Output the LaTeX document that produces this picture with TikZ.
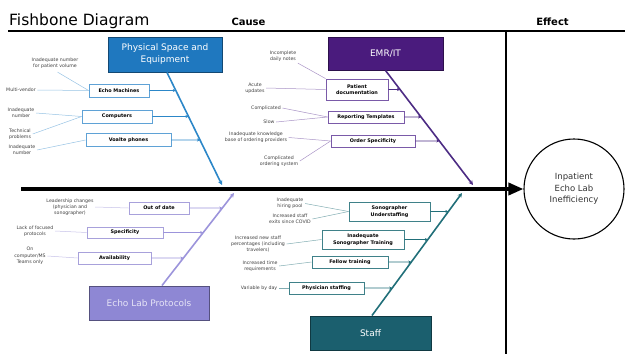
\documentclass[tikz,border=0pt]{standalone}
\usepackage{fontspec}
\setmainfont{DejaVu Sans}
\usetikzlibrary{arrows.meta,calc,positioning}

\definecolor{fillpse}{HTML}{1F78BF}
\definecolor{bonepse}{HTML}{2C87C8}
\definecolor{edgepse}{HTML}{5FA2D6}
\definecolor{fillemr}{HTML}{4A1B7D}
\definecolor{boneemr}{HTML}{4D2C84}
\definecolor{edgeemr}{HTML}{7A5AA8}
\definecolor{fillelp}{HTML}{8E87D4}
\definecolor{boneelp}{HTML}{9C94DB}
\definecolor{edgeelp}{HTML}{A8A1DB}
\definecolor{textelp}{HTML}{E6E4F6}
\definecolor{fillstaff}{HTML}{1B5F6E}
\definecolor{bonestaff}{HTML}{216F79}
\definecolor{edgestaff}{HTML}{3F8189}

\begin{document}
\begin{tikzpicture}[x=1pt, y=-1pt,
    every node/.style={align=center, inner sep=1.5pt},
    header/.style={draw=#1!60!black, fill=#1, text=white, line width=1pt,
        inner sep=0pt, font=\fontsize{9}{12}\selectfont},
    causebox/.style={draw=#1, fill=white, line width=0.8pt, inner sep=0pt,
        minimum height=12pt, font=\bfseries\fontsize{4.9}{6.5}\selectfont},
    reason/.style={text=black!75, font=\fontsize{4.7}{6.3}\selectfont},
    bone/.style={draw=#1, line width=1.6pt, -{Stealth[length=4.5pt,width=4.5pt]}},
    twig/.style={draw=#1, line width=0.7pt, -{Stealth[length=3pt,width=3pt]}},
    feed/.style={draw=#1!65, line width=0.5pt}]

    \useasboundingbox (0,0) rectangle (625,354);

    % 1. Judul dan garis kepala
    \node[anchor=base west, inner sep=0pt, font=\fontsize{15.5}{18}\selectfont] (title) at (9,25) {Fishbone Diagram};
    \node[anchor=base, inner sep=0pt, font=\bfseries\fontsize{10}{12}\selectfont] (cause) at (248.5,25.5) {Cause};
    \node[anchor=base, inner sep=0pt, font=\bfseries\fontsize{10}{12}\selectfont] (effect-title) at (552.5,25.5) {Effect};
    \draw[line width=1.3pt] (8,31) -- (625,31);
    \draw[line width=1.2pt] (506,31) -- (506,354);

    % 2. Akibat dan tulang utama
    \node[draw, circle, line width=1.1pt, minimum size=100pt, text=black!80,
        font=\fontsize{8.5}{11.5}\selectfont] (effect) at (574,189) {Inpatient\\Echo Lab\\Inefficiency};
    \coordinate (spine) at (21,189);
    \draw[line width=3.5pt, -{Triangle[length=15pt,width=12pt]}] (spine) -- (effect.west);

    % 3. Kepala kategori
    \node[header=fillpse, minimum width=114pt, minimum height=35pt] (pse) at (165,54.5) {Physical Space and\\Equipment};
    \node[header=fillemr, minimum width=115pt, minimum height=33pt] (emr) at (385.5,53.5) {EMR/IT};
    \node[header=fillelp, text=textelp, minimum width=120pt, minimum height=34pt] (elp) at (149,303) {Echo Lab Protocols};
    \node[header=fillstaff, minimum width=121pt, minimum height=34pt] (staff) at (370.5,333) {Staff};

    % 4. Tulang kategori
    \coordinate (spse) at ($(pse.south)+(2,0)$);    \coordinate (tpse) at (222,185);
    \coordinate (semr) at (emr.south);              \coordinate (temr) at (473,185);
    \coordinate (selp) at ($(elp.north)+(13,0)$);   \coordinate (telp) at (234,193);
    \coordinate (sstaff) at ($(staff.north)+(1.5,0)$); \coordinate (tstaff) at (462,193);
    \foreach \g in {pse, emr, elp, staff}
        \draw[bone=bone\g] (s\g) -- (t\g);

    % 5. Kotak penyebab
    \node[causebox=edgepse, minimum width=60pt, minimum height=13pt] (echo) at (119,90.5) {Echo Machines};
    \node[causebox=edgepse, minimum width=70pt, minimum height=13pt] (comp) at (117,116.5) {Computers};
    \node[causebox=edgepse, minimum width=85pt, minimum height=13pt] (voalte) at (128.5,140) {Voalte phones};

    \node[causebox=edgeemr, minimum width=62pt, minimum height=21pt] (patdoc) at (357,89.5) {Patient\\documentation};
    \node[causebox=edgeemr, minimum width=76pt] (reptmpl) at (366,117) {Reporting Templates};
    \node[causebox=edgeemr, minimum width=84pt] (ordspec) at (373,141) {Order Specificity};

    \node[causebox=edgeelp, minimum width=60pt] (outdate) at (159,208) {Out of date};
    \node[causebox=edgeelp, minimum width=76pt, minimum height=11pt] (specif) at (125,232.5) {Specificity};
    \node[causebox=edgeelp, minimum width=73pt] (avail) at (114.5,258) {Availability};

    \node[causebox=edgestaff, minimum width=81pt, minimum height=19pt] (sonund) at (389.5,211.5) {Sonographer\\Understaffing};
    \node[causebox=edgestaff, minimum width=82pt, minimum height=19pt] (sontrain) at (363,239.5) {Inadequate\\Sonographer Training};
    \node[causebox=edgestaff, minimum width=76pt] (fellow) at (350,262) {Fellow training};
    \node[causebox=edgestaff, minimum width=75pt] (physt) at (326.5,288) {Physician staffing};

    % 6. Panah kecil ke tulang kategori
    \foreach \c/\g in {echo/pse, comp/pse, voalte/pse, patdoc/emr, reptmpl/emr, ordspec/emr,
                       outdate/elp, specif/elp, avail/elp,
                       sonund/staff, sontrain/staff, fellow/staff, physt/staff}
        \draw[twig=bone\g] (\c.east) -- (intersection cs: first line={(s\g)--(t\g)}, second line={(\c.west)--(\c.east)});

    % 7. Alasan
    \node[reason] (l1) at (55,63.5) {Inadequate number\\for patient volume};
    \node[reason] (l2) at (21,90) {Multi-vendor};
    \node[reason] (l3) at (21,113) {Inadequate\\number};
    \node[reason] (l4) at (20,134) {Technical\\problems};
    \node[reason] (l5) at (22,150) {Inadequate\\number};

    \node[reason] (e1) at (283,56) {Incomplete\\daily notes};
    \node[reason] (e2) at (255,88) {Acute\\updates};
    \node[reason] (e3) at (266,108) {Complicated};
    \node[reason] (e4) at (269,122) {Slow};
    \node[reason] (e5) at (256,137.5) {Inadequate knowledge\\base of ordering providers};
    \node[reason] (e6) at (279,161) {Complicated\\ordering system};

    \node[reason] (p1) at (70,207) {Leadership changes\\(physician and\\sonographer)};
    \node[reason] (p2) at (35,231) {Lack of focused\\protocols};
    \node[reason] (p3) at (30,256) {On\\computer/MS\\Teams only};

    \node[reason] (s1) at (290,203.5) {Inadequate\\hiring pool};
    \node[reason] (s2) at (290,219) {Increased staff\\exits since COVID};
    \node[reason] (s3) at (258,244) {Increased new staff\\percentages (including\\travelers)};
    \node[reason] (s4) at (260,266) {Increased time\\requirements};
    \node[reason] (s5) at (259,288) {Variable by day};

    % 8. Garis alasan ke kotak
    \draw[feed=edgepse, shorten <=3pt] (l1.south) -- (echo.west);
    \draw[feed=edgeemr] (e1.south east) -- (patdoc.north west);
    \foreach \l/\c/\g in {l2/echo/pse, l3/comp/pse, l4/comp/pse, l5/voalte/pse,
                          e2/patdoc/emr, e3/reptmpl/emr, e4/reptmpl/emr, e5/ordspec/emr, e6/ordspec/emr,
                          p1/outdate/elp, p2/specif/elp, p3/avail/elp,
                          s1/sonund/staff, s2/sonund/staff, s3/sontrain/staff, s4/fellow/staff, s5/physt/staff}
        \draw[feed=edge\g] (\l.east) -- (\c.west);

\end{tikzpicture}
\end{document}
